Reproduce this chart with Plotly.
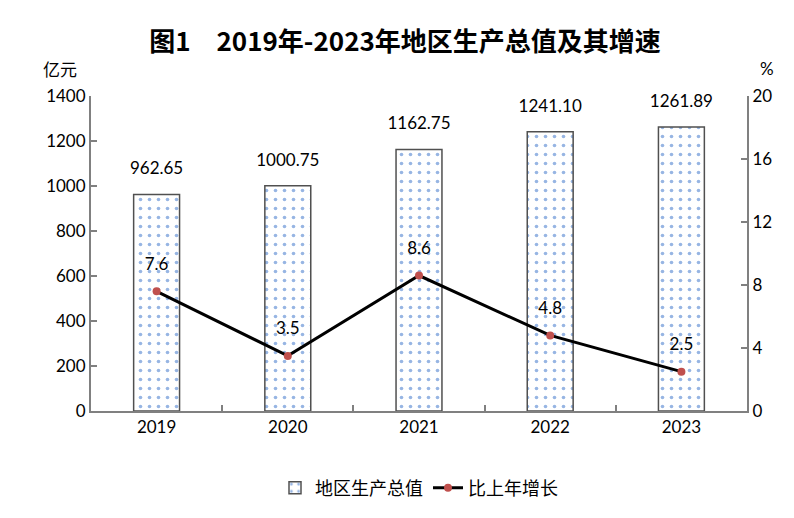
import plotly.graph_objects as go

years = ["2019", "2020", "2021", "2022", "2023"]
gdp = [962.65, 1000.75, 1162.75, 1241.10, 1261.89]
growth = [7.6, 3.5, 8.6, 4.8, 2.5]
gdp_labels = ["962.65", "1000.75", "1162.75", "1241.10", "1261.89"]
growth_labels = ["7.6", "3.5", "8.6", "4.8", "2.5"]

num_font = "Lato, 'Open Sans', sans-serif"
cjk_font = "'Noto Sans CJK SC', sans-serif"

W, H = 794, 518
OFF = 8  # page body margin
L, R, T, B = 91 - OFF, W - (747 - OFF), 96 - OFF, H - (411 - OFF)

fig = go.Figure()

fig.add_trace(go.Bar(
    x=years, y=gdp, name="地区生产总值",
    width=0.35,
    marker=dict(
        color="white",
        line=dict(color="#505050", width=1.5),
        pattern=dict(shape=".", fgcolor="#2F6BC8", bgcolor="white", size=9, solidity=0.13),
    ),
))

fig.add_trace(go.Scatter(
    x=years, y=growth, name="比上年增长", yaxis="y2",
    mode="lines+markers",
    line=dict(color="black", width=3),
    marker=dict(color="#C0504D", size=8),
    cliponaxis=False,
))

# value labels: text above invisible markers (marker size sets the gap)
fig.add_trace(go.Scatter(
    x=years, y=gdp, mode="markers+text", text=gdp_labels, textposition="top center",
    marker=dict(size=24, opacity=0), textfont=dict(family=num_font, size=17, color="black"),
    showlegend=False, hoverinfo="skip", cliponaxis=False,
))
fig.add_trace(go.Scatter(
    x=years, y=growth, yaxis="y2", mode="markers+text", text=growth_labels, textposition="top center",
    marker=dict(size=26, opacity=0), textfont=dict(family=num_font, size=17, color="black"),
    showlegend=False, hoverinfo="skip", cliponaxis=False,
))

axis_style = dict(showline=True, linecolor="#808080", linewidth=2,
                  ticks="inside", ticklen=6, tickcolor="#808080", tickwidth=2,
                  showgrid=False, tickfont=dict(family=num_font, size=17, color="black"))

fig.update_layout(
    width=W, height=H,
    paper_bgcolor="white", plot_bgcolor="white",
    margin=dict(l=L, r=R, t=T, b=B),
    title=dict(text="<b>图1　2019年-2023年地区生产总值及其增速</b>",
               x=0.5, xanchor="center", y=1 - (42 - OFF) / H, yanchor="middle",
               font=dict(family=cjk_font, size=26, color="black")),
    font=dict(family=num_font, size=17, color="black"),
    xaxis=dict(type="category", tickson="boundaries", tickangle=0, **axis_style),
    yaxis=dict(range=[0, 1400], dtick=200, zeroline=False, **axis_style),
    yaxis2=dict(range=[0, 20], dtick=4, overlaying="y", side="right", zeroline=False, **axis_style),
    legend=dict(orientation="h", x=0.5, xanchor="center",
                y=-(488 - OFF - (H - B)) / (H - T - B), yanchor="middle",
                font=dict(family=cjk_font, size=18)),
    showlegend=True,
)

plot_w = W - L - R
plot_h = H - T - B
fig.add_annotation(text="亿元", xref="paper", yref="paper", showarrow=False,
                   x=(60 - OFF - L) / plot_w, y=((H - B) - (68 - OFF)) / plot_h,
                   xanchor="center", yanchor="middle",
                   font=dict(family=cjk_font, size=17))
fig.add_annotation(text="%", xref="paper", yref="paper", showarrow=False,
                   x=(767 - OFF - L) / plot_w, y=((H - B) - (68 - OFF)) / plot_h,
                   xanchor="center", yanchor="middle",
                   font=dict(family=num_font, size=17))

fig.write_html("out.html")
